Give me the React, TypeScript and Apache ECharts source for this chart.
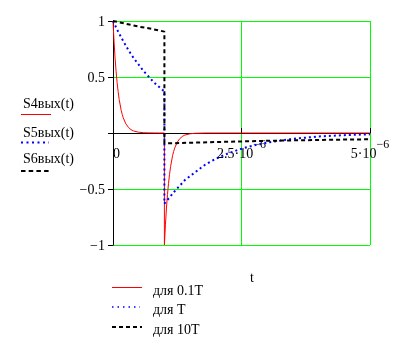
import React, { useEffect, useRef } from "react";
import * as echarts from "echarts";

// time samples in microseconds
const timesRedUs = [0, 0.02, 0.04, 0.06, 0.08, 0.1, 0.12, 0.14, 0.16, 0.18, 0.2, 0.25, 0.3, 0.35, 0.4, 0.5, 0.6, 0.7, 0.8, 0.9, 1.0, 1.0, 1.02, 1.04, 1.06, 1.08, 1.1, 1.12, 1.14, 1.16, 1.18, 1.2, 1.25, 1.3, 1.35, 1.4, 1.5, 1.6, 1.8, 2.0, 3.0, 4.0, 5.0];
const redValues = [1, 0.82, 0.67, 0.55, 0.45, 0.37, 0.3, 0.25, 0.2, 0.165, 0.135, 0.082, 0.05, 0.03, 0.018, 0.007, 0.0025, 0.001, 0.0003, 0.0001, 0.00005, -1.0, -0.82, -0.67, -0.55, -0.45, -0.37, -0.3, -0.25, -0.2, -0.165, -0.135, -0.082, -0.05, -0.03, -0.018, -0.007, -0.0025, 0, 0, 0, 0, 0];

const timesBlueUs = [0, 0.1, 0.2, 0.3, 0.4, 0.5, 0.6, 0.7, 0.8, 0.9, 1.0, 1.0, 1.2, 1.4, 1.6, 1.8, 2.0, 2.25, 2.5, 2.75, 3.0, 3.5, 4.0, 4.5, 5.0];
const blueValues = [1, 0.905, 0.82, 0.74, 0.67, 0.61, 0.55, 0.5, 0.45, 0.41, 0.37, -0.63, -0.52, -0.42, -0.35, -0.28, -0.23, -0.18, -0.14, -0.11, -0.086, -0.052, -0.031, -0.019, -0.012];

const timesBlackUs = [0, 0.25, 0.5, 0.75, 1.0, 1.0, 1.5, 2.0, 2.5, 3.0, 3.5, 4.0, 4.5, 5.0];
const blackValues = [1, 0.975, 0.95, 0.93, 0.905, -0.093, -0.087, -0.081, -0.075, -0.07, -0.066, -0.062, -0.059, -0.056];

const axisLabelNames = ["S4вых(t)", "S5вых(t)", "S6вых(t)"];
const legendNames = ["для 0.1T", "для T", "для 10T"];
const xTitle = "t";

const FONT = "'Liberation Serif', 'Times New Roman', serif";
const GREEN = "#00ff00";

const toPairs = (ts: number[], vs: number[]) => ts.map((t, i) => [t * 1e-6, vs[i]]);

export default function App() {
  const ref = useRef<HTMLDivElement>(null);
  useEffect(() => {
    if (!ref.current) return;
    const chart = echarts.init(ref.current, undefined, { renderer: "svg" });
    const txt = (x: number, y: number, s: string, align = "left") => ({
      type: "text",
      x,
      y,
      style: { text: s, fill: "#000", font: `14px ${FONT}`, textAlign: align, textVerticalAlign: "middle" },
    });
    const ln = (x1: number, x2: number, y: number, color: string, w: number, dash?: number[]) => ({
      type: "line",
      shape: { x1, y1: y, x2, y2: y },
      style: { stroke: color, lineWidth: w, lineDash: dash },
    });
    chart.setOption({
      animation: false,
      grid: { left: 113, top: 21, right: 40, bottom: 106 },
      xAxis: {
        type: "value",
        position: "bottom",
        offset: -112,
        min: 0,
        max: 5e-6,
        interval: 2.5e-6,
        axisLine: { show: true, onZero: false, lineStyle: { color: "#000", width: 1 } },
        axisTick: { show: true, inside: true, length: 5, lineStyle: { color: "#000" } },
        splitLine: { show: true, lineStyle: { color: ["#000", GREEN, GREEN], width: 1 } },
        axisLabel: {
          margin: 5,
          alignMinLabel: "left",
          formatter: (v: number) => {
            if (v === 0) return "{z|0}";
            const m = +(v * 1e6).toFixed(2);
            return `{b|${m}·10}{s|−6}`;
          },
          rich: {
            z: { fontSize: 14, fontFamily: FONT, color: "#000", lineHeight: 22, verticalAlign: "bottom" },
            b: { fontSize: 14, fontFamily: FONT, color: "#000", lineHeight: 22, verticalAlign: "bottom" },
            s: { fontSize: 12, fontFamily: FONT, color: "#000", lineHeight: 12, verticalAlign: "top" },
          },
        },
      },
      yAxis: {
        type: "value",
        min: -1,
        max: 1,
        interval: 0.5,
        axisLine: { show: true, onZero: false, lineStyle: { color: "#000", width: 1 } },
        axisTick: { show: true, inside: false, length: 5, lineStyle: { color: "#000" } },
        splitLine: { show: true, lineStyle: { color: [GREEN, GREEN, "#000", GREEN, GREEN], width: 1 } },
        axisLabel: {
          margin: 8,
          fontSize: 14,
          fontFamily: FONT,
          color: "#000",
          formatter: (v: number) => (v === 0 ? "" : String(v).replace("-", "−")),
        },
      },
      series: [
        {
          type: "line",
          z: 5,
          data: toPairs(timesRedUs, redValues),
          showSymbol: false,
          symbol: "none",
          lineStyle: { color: "#ff0000", width: 1 },
        },
        {
          type: "line",
          z: 6,
          data: toPairs(timesBlueUs, blueValues),
          showSymbol: false,
          symbol: "none",
          lineStyle: { color: "#0000ff", width: 2, type: [2, 3] },
        },
        {
          type: "line",
          z: 7,
          data: toPairs(timesBlackUs, blackValues),
          showSymbol: false,
          symbol: "none",
          lineStyle: { color: "#000000", width: 2, type: [4, 3] },
        },
      ],
      graphic: [
        txt(23, 103, axisLabelNames[0]),
        ln(21, 51, 114.5, "#ff0000", 1),
        txt(23, 132, axisLabelNames[1]),
        ln(21, 49, 142.5, "#0000ff", 2, [2, 3.5]),
        txt(23, 158, axisLabelNames[2]),
        ln(21, 50, 171, "#000000", 2, [4.5, 3.2]),
        txt(252, 277, xTitle, "center"),
        ln(112, 142, 287.5, "#ff0000", 1),
        txt(153, 290, legendNames[0]),
        ln(112, 140, 307, "#0000ff", 1.5, [1.5, 4]),
        txt(153, 309, legendNames[1]),
        ln(112, 142, 327, "#000000", 2, [4, 3]),
        txt(153, 329, legendNames[2]),
      ],
    });
    return () => chart.dispose();
  }, []);
  return <div ref={ref} style={{ position: "fixed", left: 0, top: 0, width: 410, height: 351 }} />;
}
